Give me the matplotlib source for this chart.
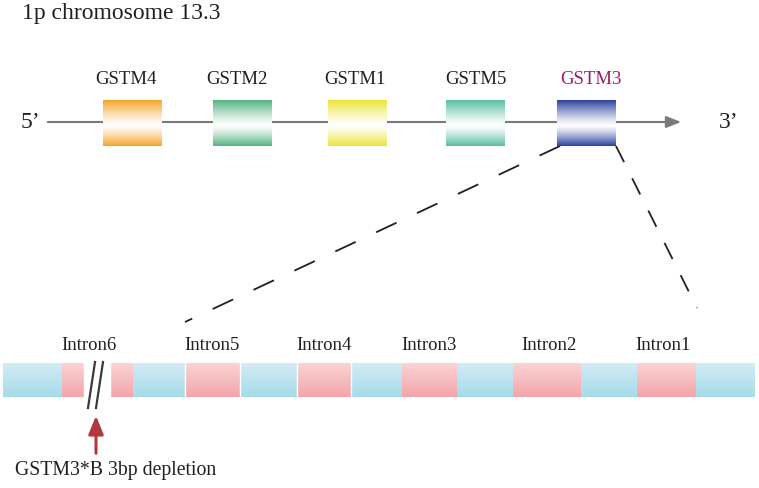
import numpy as np
import matplotlib
matplotlib.use("Agg")
from matplotlib import pyplot as plt
from matplotlib.colors import to_rgb

# gene cluster on 1p13.3 (5' -> 3')
genes = ["GSTM4", "GSTM2", "GSTM1", "GSTM5", "GSTM3"]
gene_colors = ["#f7a52a", "#55b482", "#ece43a", "#58bfa3", "#2c429e"]
label_colors = ["#231f20", "#231f20", "#231f20", "#231f20", "#9b1b6e"]

# GSTM3 introns, left to right on the expanded bar
introns = ["Intron6", "Intron5", "Intron4", "Intron3", "Intron2", "Intron1"]

title = "1p chromosome 13.3"
note = "GSTM3*B 3bp depletion"

# layout (pixels)
gene_left = [103, 213, 328, 446, 557]
gene_label_x = [126, 237, 355, 476, 591]
gene_w, gene_top, gene_bot = 59, 100, 146
line_y = 122
intron_spans = [[(62, 84), (110, 133)], [(185, 240)], [(297, 351)],
                [(402, 457)], [(513, 581)], [(637, 696)]]
intron_label_x = [89, 212, 324, 429, 549, 663]
bar_top, bar_bot = 363, 397


def grad_box(ax, x0, x1, y0, y1, color, mid=0.55, power=1.25):
    """box that fades from colour at the edges to white in the middle"""
    n = 100
    t = np.linspace(0, 1, n)
    w = np.where(t < mid, (mid - t) / mid, (t - mid) / (1 - mid)) ** power
    c = np.array(to_rgb(color))
    img = np.ones((n, 1, 3)) * (1 - w[:, None, None]) + c * w[:, None, None]
    ax.imshow(img, extent=(x0, x1, y1, y0), aspect="auto", interpolation="bilinear", zorder=3)


def vgrad(ax, x0, x1, y0, y1, ctop, cbot, z=2):
    n = 50
    t = np.linspace(0, 1, n)[:, None, None]
    img = np.array(to_rgb(ctop)) * (1 - t) + np.array(to_rgb(cbot)) * t
    ax.imshow(img, extent=(x0, x1, y1, y0), aspect="auto", interpolation="bilinear", zorder=z)


fig = plt.figure(figsize=(7.59, 4.88), dpi=100)
ax = fig.add_axes([0, 0, 1, 1])
ax.set_xlim(0, 759)
ax.set_ylim(488, 0)
ax.axis("off")

serif = ["Liberation Serif", "DejaVu Serif"]

ax.text(22, 14, title, fontsize=17, family=serif, color="#231f20", va="center", ha="left")

# chromosome line with arrow
ax.annotate("", xy=(684, line_y), xytext=(45, line_y),
            arrowprops=dict(arrowstyle="-|>,head_length=0.9,head_width=0.35", color="#7a7a7a", lw=1.5),
            zorder=1)
ax.text(40, line_y + 1, "5\u2019", fontsize=17, family=serif, ha="right", va="center", color="#231f20")
ax.text(719, line_y + 1, "3\u2019", fontsize=17, family=serif, ha="left", va="center", color="#231f20")

for g, c, lc, x0, lx in zip(genes, gene_colors, label_colors, gene_left, gene_label_x):
    grad_box(ax, x0, x0 + gene_w, gene_top, gene_bot, c)
    ax.text(lx, 80, g, fontsize=13.5, family=serif, ha="center", va="center", color=lc)

# zoom lines from GSTM3
x3 = gene_left[-1]
ax.plot([x3 + 3, 185], [gene_bot, 322], ls=(0, (12.5, 12.5)), color="#231f20", lw=1.3)
ax.plot([x3 + gene_w, 697], [gene_bot, 308], ls=(0, (10, 10)), color="#231f20", lw=1.3)

# expanded gene bar
vgrad(ax, 3, 755, bar_top, bar_bot, "#d3ecf5", "#a6dbeb", z=2)
for name, spans, lx in zip(introns, intron_spans, intron_label_x):
    for a, b in spans:
        vgrad(ax, a, b, bar_top, bar_bot, "#fad3d5", "#f3a5a9", z=3)
    ax.text(lx, 346, name, fontsize=13.5, family=serif, ha="center", va="center", color="#231f20")
for xe in [185, 240, 297, 351]:
    ax.plot([xe, xe], [bar_top, bar_bot], color="white", lw=1, zorder=4)

# break in intron 6
ax.fill_between([84, 110], bar_top - 1, bar_bot + 1, color="white", zorder=4)
ax.plot([95, 88], [362, 408], color="#3a3a3a", lw=1.6, zorder=5)
ax.plot([103, 96], [362, 408], color="#3a3a3a", lw=1.6, zorder=5)

# deletion arrow
ax.annotate("", xy=(96, 413), xytext=(96, 456),
            arrowprops=dict(arrowstyle="-|>,head_length=1.1,head_width=0.45", color="#b4373e", lw=2.2))
ax.text(15, 470, note, fontsize=14.2, family=serif, ha="left", va="center", color="#231f20")

plt.savefig("out.png", dpi=100)
